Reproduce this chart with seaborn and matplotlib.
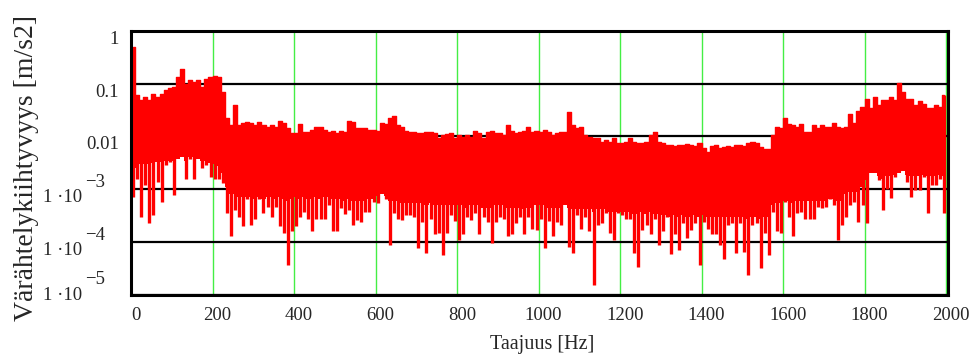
import numpy as np
import pandas as pd
import matplotlib
matplotlib.use("Agg")
import matplotlib.pyplot as plt
import matplotlib.transforms as mtransforms
from matplotlib.ticker import NullLocator
import seaborn as sns

# ---------------- data (one value per 10 Hz bin) ----------------
freq = np.arange(5, 2000, 10)  # bin centres [Hz]

top = np.array([
    0.5, 0.06, 0.05, 0.055, 0.049, 0.065, 0.056, 0.065, 0.075, 0.084,
    0.087, 0.135, 0.19, 0.10, 0.117, 0.108, 0.117, 0.087, 0.125, 0.135,
    0.14, 0.135, 0.07, 0.022, 0.0164, 0.039, 0.0164, 0.0177, 0.0185, 0.0182,
    0.0164, 0.0185, 0.0164, 0.0153, 0.0164, 0.0153, 0.0195, 0.0177, 0.0142, 0.0114,
    0.0114, 0.0169, 0.0123, 0.0123, 0.0135, 0.0153, 0.0153, 0.0132, 0.0123, 0.0126,
    0.0114, 0.0126, 0.0123, 0.0195, 0.019, 0.0142, 0.0146, 0.0142, 0.0132, 0.0132,
    0.0126, 0.018, 0.017, 0.022, 0.024, 0.0164, 0.0153, 0.0126, 0.0123, 0.0123,
    0.0114, 0.0114, 0.0119, 0.0123, 0.0114, 0.0092, 0.0106, 0.0109, 0.0114, 0.0092,
    0.0106, 0.0099, 0.0106, 0.0099, 0.0126, 0.0114, 0.0092, 0.0123, 0.0126, 0.0114,
    0.0114, 0.0106, 0.0164, 0.0126, 0.0114, 0.0123, 0.0126, 0.0153, 0.0123, 0.0126,
    0.0123, 0.0132, 0.0123, 0.0106, 0.0114, 0.0123, 0.0123, 0.029, 0.0164, 0.0142,
    0.0153, 0.0106, 0.0099, 0.0092, 0.0092, 0.0079, 0.0086, 0.0079, 0.0092, 0.0074,
    0.0074, 0.0079, 0.0092, 0.0079, 0.0074, 0.0074, 0.0079, 0.0106, 0.0123, 0.0079,
    0.0074, 0.0069, 0.0069, 0.0067, 0.0069, 0.0069, 0.0071, 0.0069, 0.0067, 0.0074,
    0.0061, 0.0051, 0.0067, 0.0069, 0.0061, 0.0064, 0.0067, 0.0064, 0.0069, 0.0069,
    0.0067, 0.0074, 0.0079, 0.0074, 0.0064, 0.0059, 0.0059, 0.0106, 0.0153, 0.0142,
    0.022, 0.0169, 0.0164, 0.0153, 0.0169, 0.0123, 0.0123, 0.0164, 0.0142, 0.0164,
    0.0153, 0.0153, 0.018, 0.0153, 0.0142, 0.0153, 0.027, 0.0177, 0.031, 0.036,
    0.052, 0.034, 0.056, 0.039, 0.049, 0.049, 0.056, 0.049, 0.105, 0.07,
    0.052, 0.052, 0.039, 0.047, 0.042, 0.034, 0.034, 0.039, 0.036, 0.06,
])

body = np.array([
    2e-3, 2.5e-3, 3e-3, 3e-3, 3e-3, 3.2e-3, 3.3e-3, 3.3e-3, 3.5e-3, 3.5e-3,
    3.5e-3, 3.8e-3, 4e-3, 3.5e-3, 4e-3, 4e-3, 3.8e-3, 3.5e-3, 3.5e-3, 3.2e-3,
    3e-3, 2.8e-3, 2e-3, 1.1e-3, 8e-4, 8e-4, 7e-4, 7e-4, 7e-4, 7e-4,
    6.5e-4, 7e-4, 6.5e-4, 7e-4, 7e-4, 6.5e-4, 7e-4, 6.5e-4, 6e-4, 6.5e-4,
    7e-4, 6.5e-4, 7e-4, 6.5e-4, 6.5e-4, 7e-4, 6.5e-4, 7e-4, 7e-4, 6.5e-4,
    6.5e-4, 6.5e-4, 6e-4, 6.5e-4, 6e-4, 6e-4, 6e-4, 6e-4, 6.5e-4, 6.5e-4,
    7.5e-4, 8e-4, 7.5e-4, 6e-4, 6e-4, 6e-4, 5.5e-4, 5.5e-4, 5.5e-4, 5.5e-4,
    5.5e-4, 5.5e-4, 5e-4, 5.5e-4, 5e-4, 5e-4, 5e-4, 5e-4, 5e-4, 5e-4,
    5e-4, 5e-4, 4.5e-4, 5e-4, 5e-4, 5e-4, 4.5e-4, 4.5e-4, 4.5e-4, 5e-4,
    5e-4, 5e-4, 4.5e-4, 4.5e-4, 4.5e-4, 4.5e-4, 4.2e-4, 4.5e-4, 4.5e-4, 5e-4,
    5e-4, 5e-4, 4.5e-4, 4.5e-4, 4.5e-4, 4.5e-4, 5e-4, 4.5e-4, 4.2e-4, 4.2e-4,
    4.2e-4, 4.2e-4, 4.2e-4, 3.8e-4, 4.2e-4, 4.2e-4, 4.2e-4, 3.8e-4, 3.8e-4, 3.8e-4,
    3.8e-4, 3.8e-4, 3.8e-4, 3.4e-4, 3.4e-4, 3.8e-4, 3.4e-4, 3.8e-4, 3.4e-4, 3.4e-4,
    3.3e-4, 3.3e-4, 3e-4, 3.3e-4, 3e-4, 3.3e-4, 3e-4, 3e-4, 3.3e-4, 3e-4,
    3.3e-4, 3e-4, 3e-4, 3e-4, 3e-4, 3e-4, 3e-4, 3e-4, 3e-4, 3e-4,
    3e-4, 2.7e-4, 3e-4, 3e-4, 2.7e-4, 3e-4, 3e-4, 5e-4, 5.5e-4, 5.5e-4,
    6e-4, 6e-4, 5.5e-4, 6e-4, 6e-4, 6e-4, 6e-4, 6e-4, 6e-4, 6e-4,
    6e-4, 6.5e-4, 6.5e-4, 6e-4, 6e-4, 8e-4, 9e-4, 9e-4, 9e-4, 1.1e-3,
    1.5e-3, 2e-3, 2e-3, 1.8e-3, 1.6e-3, 1.8e-3, 1.8e-3, 1.9e-3, 2e-3, 2.2e-3,
    1.9e-3, 1.8e-3, 1.8e-3, 1.8e-3, 1.9e-3, 1.8e-3, 1.8e-3, 1.8e-3, 1.9e-3, 1.8e-3,
])

dip = np.array([
    7.2e-4, 1.6e-3, 3.0e-4, 1.2e-3, 2.3e-4, 3.3e-4, 1.4e-3, 5.8e-4, 2.9e-3, 3.3e-3,
    7.8e-4, 5e-3, 5e-3, 1.6e-3, 3.8e-3, 1.6e-3, 4.4e-3, 2.5e-3, 2.9e-3, 1.7e-3,
    1.6e-3, 1.6e-3, 1.3e-3, 3.5e-4, 1.3e-4, 4.0e-4, 3.0e-4, 2.0e-4, 6.7e-4, 2.1e-4,
    2.8e-4, 6.7e-4, 3.5e-4, 4.7e-4, 3.0e-4, 4.7e-4, 2.0e-4, 1.5e-4, 3.7e-5, 1.6e-4,
    2.0e-4, 3.0e-4, 3.8e-4, 2.8e-4, 1.6e-4, 2.8e-4, 2.8e-4, 2.8e-4, 5.0e-4, 1.6e-4,
    1.6e-4, 4.4e-4, 3.4e-4, 4.1e-4, 2.1e-4, 2.6e-4, 2.4e-4, 3.7e-4, 3.8e-4, 5.8e-4,
    5.4e-4, 1.0e-3, 6.7e-4, 9e-5, 3.5e-4, 2.8e-4, 2.6e-4, 3.3e-4, 3.3e-4, 3.0e-4,
    7.6e-5, 2.4e-4, 6.2e-5, 2.8e-4, 1.4e-4, 1.5e-4, 5.7e-5, 1.5e-4, 3.3e-4, 2.5e-4,
    1.1e-4, 1.4e-4, 3.0e-4, 2.6e-4, 3.5e-4, 1.4e-4, 3.0e-4, 2.4e-4, 9.5e-5, 2.4e-4,
    3.0e-4, 2.8e-4, 1.3e-4, 1.4e-4, 2.3e-4, 3.0e-4, 1.4e-4, 3.0e-4, 1.8e-4, 1.7e-4,
    2.8e-4, 7.7e-5, 2.5e-4, 1.3e-4, 2.4e-4, 2.1e-4, 6.7e-4, 8e-5, 6.2e-5, 3.3e-4,
    1.8e-4, 3.0e-4, 1.6e-4, 1.55e-5, 2.1e-4, 2.3e-4, 3.5e-4, 1.5e-4, 1.1e-4, 3.5e-4,
    3.3e-4, 2.8e-4, 2.8e-4, 6.2e-5, 3.4e-5, 1.7e-4, 2.1e-4, 1.4e-4, 2.8e-4, 8.8e-5,
    1.6e-4, 3.0e-4, 5.9e-5, 1.4e-4, 7.1e-5, 2.3e-4, 1.2e-4, 1.7e-4, 2.3e-4, 3.7e-5,
    2.4e-4, 1.8e-4, 1.4e-4, 1.4e-4, 8.8e-5, 4.9e-5, 2.1e-4, 2.3e-4, 6.1e-5, 2.3e-4,
    6.6e-5, 2.4e-5, 2.1e-4, 2.3e-4, 3.2e-5, 1.5e-4, 5.7e-5, 3.8e-4, 1.6e-4, 1.5e-4,
    5.8e-4, 3.0e-4, 1.3e-4, 3.5e-4, 3.8e-4, 2.8e-4, 2.8e-4, 2.8e-4, 4.7e-4, 4.4e-4,
    4.7e-4, 6.7e-4, 5.0e-4, 1.1e-4, 2.1e-4, 3.0e-4, 5.0e-4, 5.8e-4, 2.4e-4, 5.0e-4,
    2.3e-4, 2.5e-3, 2.5e-3, 1.5e-3, 4.0e-4, 1.0e-3, 6.8e-4, 1.7e-3, 2.2e-3, 3.3e-3,
    1.4e-3, 7.2e-4, 9.7e-4, 9.7e-4, 1.7e-3, 3.5e-4, 1.2e-3, 1.2e-3, 1.6e-3, 3.5e-4,
])

xtick_vals = [0, 200, 400, 600, 800, 1000, 1200, 1400, 1600, 1800, 2000]
xtick_labels = ["0", "200", "400", "600", "800", "1000", "1200", "1400", "1600", "1800", "2000"]
ytick_vals = [1, 0.1, 0.01, 1e-3, 1e-4, 1e-5]
ytick_base = ["1", "0.1", "0.01", "1 \u00b710", "1 \u00b710", "1 \u00b710"]
ytick_exp = ["", "", "", "\u22123", "\u22124", "\u22125"]
ytick_dy = [0, 0, 0, 0, 0, 6]   # vertical nudge of label (points)

x_label = "Taajuus [Hz]"
y_label = "Värähtelykiihtyvyys [m/s2]"

# ---------------- style ----------------
sns.set_style("white")
plt.rcParams["font.family"] = ["Liberation Serif", "DejaVu Serif"]

RED = "#ff0000"
GREEN = "#44ee44"

fig = plt.figure(figsize=(9.75, 3.58), dpi=100)
ax = fig.add_axes([0.1344, 0.176, 0.838, 0.738])

df = pd.DataFrame({"freq": freq, "top": top, "body": body, "dip": dip})

ax.fill_between(df["freq"], df["body"], df["top"], step="mid", color=RED, lw=0, zorder=2)
ax.vlines(df["freq"], df["dip"], df["top"], color=RED, lw=2.4, zorder=2)
sns.lineplot(data=df, x="freq", y="top", color=RED, lw=1.0,
             drawstyle="steps-mid", ax=ax, zorder=3)

ax.set_yscale("log")
ax.set_ylim(1e-5, 1)
ax.set_xlim(0, 2005)
ax.yaxis.set_minor_locator(NullLocator())
ax.set_yticks(ytick_vals)
ax.set_yticklabels([""] * len(ytick_vals))
ax.set_xticks(xtick_vals)
ax.set_xticklabels(xtick_labels, fontsize=13.5)
ax.tick_params(axis="both", length=0)
ax.tick_params(axis="x", pad=9)

ax.set_axisbelow(True)
ax.grid(axis="y", color="black", lw=1.6)
ax.grid(axis="x", color=GREEN, lw=1.0)

for s in ax.spines.values():
    s.set_visible(True)
    s.set_color("black")
    s.set_linewidth(2.2)
    s.set_zorder(5)

# shift x tick labels slightly right (as in the reference)
shift = mtransforms.ScaledTranslation(0.05, 0, fig.dpi_scale_trans)
for lbl in ax.get_xticklabels():
    lbl.set_transform(lbl.get_transform() + shift)

# y tick labels with same-size exponents
for v, base, ex, dy in zip(ytick_vals, ytick_base, ytick_exp, ytick_dy):
    if ex:
        ax.annotate(base, xy=(0, v), xycoords=("axes fraction", "data"),
                    xytext=(-35, dy), textcoords="offset points",
                    ha="right", va="top", fontsize=13.5, annotation_clip=False)
        ax.annotate(ex, xy=(0, v), xycoords=("axes fraction", "data"),
                    xytext=(-18.5, dy - 1), textcoords="offset points",
                    ha="right", va="bottom", fontsize=13.5, annotation_clip=False)
    else:
        ax.annotate(base, xy=(0, v), xycoords=("axes fraction", "data"),
                    xytext=(-8.5, dy), textcoords="offset points",
                    ha="right", va="top", fontsize=13.5, annotation_clip=False)

ax.set_xlabel(x_label, fontsize=14.5)
ax.set_ylabel(y_label, fontsize=20)
ax.xaxis.set_label_coords(0.503, -0.15)
ax.yaxis.set_label_coords(-0.113, 0.48)

fig.savefig("out.png", dpi=100)
